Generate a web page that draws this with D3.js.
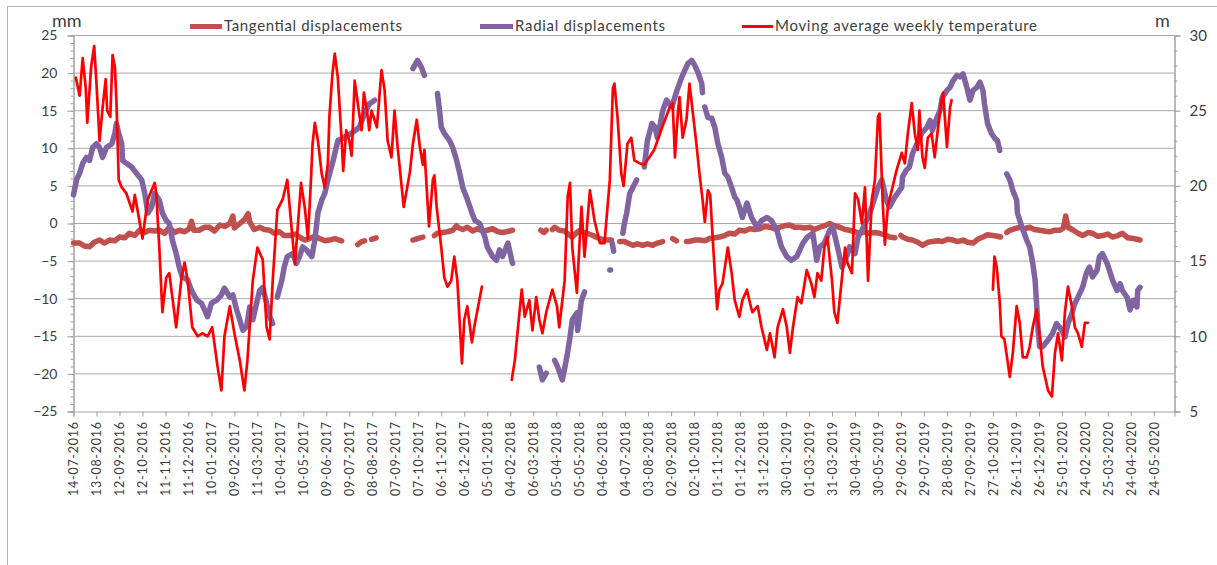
<!DOCTYPE html>
<html>
<head>
<meta charset="utf-8">
<script src="https://cdn.jsdelivr.net/npm/d3@7"></script>
<style>
  html, body { margin: 0; padding: 0; background: #fff; }
  svg { display: block; }
  text { font-family: Lato, "Liberation Sans", sans-serif; fill: #404040; }
</style>
</head>
<body>
<svg id="chart" width="1217" height="565"></svg>
<script>
// ---- data -------------------------------------------------------------
const startLabel = "14-07-2016";
const axisEndDays = 1437;

const xTickLabels = [
  "14-07-2016","13-08-2016","12-09-2016","12-10-2016","11-11-2016","11-12-2016",
  "10-01-2017","09-02-2017","11-03-2017","10-04-2017","10-05-2017","09-06-2017",
  "09-07-2017","08-08-2017","07-09-2017","07-10-2017","06-11-2017","06-12-2017",
  "05-01-2018","04-02-2018","06-03-2018","05-04-2018","05-05-2018","04-06-2018",
  "04-07-2018","03-08-2018","02-09-2018","02-10-2018","01-11-2018","01-12-2018",
  "31-12-2018","30-01-2019","01-03-2019","31-03-2019","30-04-2019","30-05-2019",
  "29-06-2019","29-07-2019","28-08-2019","27-09-2019","27-10-2019","26-11-2019",
  "26-12-2019","25-01-2020","24-02-2020","25-03-2020","24-04-2020","24-05-2020"
];
const leftTicks = [-25, -20, -15, -10, -5, 0, 5, 10, 15, 20, 25];
const rightTicks = [5, 10, 15, 20, 25, 30];
const leftUnit = "mm";
const rightUnit = "m";
const seriesNames = ["Tangential displacements", "Radial displacements", "Moving average weekly temperature"];

// [days since start, mm]; null marks a break in the record
const tangential = [
  [0,-2.6],[8,-2.6],[14,-3.0],[21,-3.1],[27,-2.5],[34,-2.2],[40,-2.6],[47,-2.2],[54,-2.3],[60,-1.8],
  [67,-1.9],[73,-1.3],[80,-1.6],[86,-0.9],[93,-1.2],[99,-0.9],[106,-1.0],[112,-0.9],[119,-1.3],[125,-0.5],
  [132,-1.2],[138,-0.9],[145,-1.1],[151,-0.7],[154,0.3],[157,-0.9],[164,-0.9],[171,-0.5],[178,-0.5],[184,-1.0],
  [191,-0.2],[197,-0.4],[204,0.0],[208,1.0],[210,-0.6],[217,0.0],[223,0.5],[228,1.3],[230,0.2],[236,-0.8],
  [243,-0.5],[249,-0.8],[256,-0.9],[262,-1.3],[269,-1.1],[275,-1.6],[282,-1.6],[289,-1.4],[295,-1.8],[302,-2.2],
  [308,-2.0],[315,-1.7],[321,-2.0],[328,-2.3],[334,-2.2],[341,-2.0],[347,-2.2],[350,-2.3],[355,null],
  [371,-2.8],[376,-2.4],[380,-2.3],[383,null],[389,-2.1],[395,-1.9],[398,null],
  [443,-2.2],[449,-2.0],[456,-1.8],[460,null],
  [471,-1.6],[475,-1.3],[482,-1.2],[488,-1.1],[495,-0.9],[500,-0.3],[501,-0.5],[508,-0.8],[514,-0.5],[521,-1.0],
  [527,-0.7],[534,-1.0],[540,-0.9],[547,-0.7],[554,-1.1],[560,-1.2],[565,-1.1],[573,-0.9],[580,null],
  [610,-0.9],[614,-1.2],[617,-0.9],[621,null],
  [625,-0.8],[628,-0.5],[634,-0.9],[641,-1.0],[644,-1.3],[651,-1.8],[657,-1.2],[661,-0.9],[667,-1.3],[670,-1.3],
  [678,-1.6],[684,-1.9],[687,-2.0],[693,-2.2],[702,-2.2],[706,null],
  [713,-2.4],[719,-2.4],[723,-2.6],[730,-2.9],[736,-2.7],[743,-2.9],[749,-2.7],[756,-2.9],[762,-2.6],[769,-2.4],[774,null],
  [782,-2.0],[787,-2.3],[792,null],
  [800,-2.4],[803,-2.4],[811,-2.2],[817,-2.2],[824,-2.3],[830,-2.0],[837,-1.9],[843,-1.8],[850,-1.6],[856,-1.3],
  [863,-1.4],[869,-0.9],[876,-1.0],[883,-0.7],[889,-0.8],[896,-0.7],[902,-0.4],[909,-0.5],[915,-0.7],[922,-0.5],
  [928,-0.3],[935,-0.2],[941,-0.5],[948,-0.5],[954,-0.6],[961,-0.5],[967,-0.8],[974,-0.5],[980,-0.3],[987,0.0],
  [993,-0.3],[1000,-0.5],[1007,-0.8],[1013,-0.9],[1020,-1.1],[1026,-1.3],[1033,-1.1],[1039,-1.3],[1046,-1.2],[1052,-1.3],
  [1059,-1.5],[1065,-1.8],[1072,-1.9],[1076,null],
  [1080,-1.6],[1082,-1.8],[1089,-2.1],[1095,-2.2],[1102,-2.5],[1108,-2.9],[1115,-2.5],[1121,-2.4],[1128,-2.3],[1134,-2.4],
  [1141,-2.1],[1148,-2.2],[1154,-2.4],[1161,-2.2],[1167,-2.5],[1174,-2.6],[1180,-2.1],[1187,-1.8],[1193,-1.5],[1200,-1.6],
  [1206,-1.7],[1210,-1.8],[1214,null],
  [1218,-1.2],[1222,-0.9],[1228,-0.7],[1235,-0.5],[1241,-0.7],[1248,-0.5],[1254,-0.8],[1261,-0.9],[1267,-1.0],[1274,-1.1],
  [1280,-0.9],[1287,-0.9],[1292,-0.6],[1295,1.0],[1298,-0.5],[1305,-0.9],[1311,-1.3],[1317,-1.6],[1324,-1.2],[1330,-1.3],
  [1337,-1.7],[1343,-1.6],[1350,-1.4],[1356,-1.8],[1363,-1.6],[1369,-1.3],[1376,-1.9],[1383,-2.0],[1388,-2.1],[1392,-2.2]
];

const radial = [
  [0,3.8],[4,5.8],[8,6.7],[12,8.0],[17,8.8],[21,8.4],[25,10.1],[30,10.6],[34,10.1],[38,8.8],
  [43,10.1],[50,10.6],[54,12.0],[56,13.3],[59,12.0],[63,10.6],[64,8.4],[69,8.0],[76,7.5],[82,6.7],
  [89,5.8],[93,4.0],[97,1.4],[102,2.2],[106,4.0],[112,3.1],[116,1.4],[121,0.4],[125,0.0],[129,-2.2],
  [134,-4.0],[138,-5.8],[142,-7.1],[149,-7.5],[154,-8.9],[161,-10.2],[167,-10.6],[171,-11.5],[175,-12.4],[180,-10.6],
  [187,-10.2],[193,-9.5],[197,-8.6],[204,-9.8],[208,-9.5],[213,-11.5],[217,-12.8],[221,-14.2],[226,-13.7],[230,-11.1],
  [234,-12.8],[239,-10.6],[243,-8.9],[247,-8.5],[252,-10.6],[256,-12.4],[260,-13.3],[263,null],
  [266,-9.8],[272,-7.5],[275,-5.8],[279,-4.4],[286,-4.0],[291,-5.3],[295,-4.4],[299,-3.1],[304,-3.5],[311,-4.4],
  [315,-2.2],[319,1.4],[324,3.1],[328,4.0],[332,5.8],[338,8.0],[345,11.0],[354,11.5],[363,12.0],[373,12.8],
  [380,14.6],[386,15.9],[393,16.4],[398,null],
  [443,20.6],[449,21.7],[454,20.8],[458,19.7],[462,null],
  [475,17.3],[478,14.8],[480,12.8],[484,12.0],[491,11.0],[495,10.1],[500,8.4],[504,6.7],[508,4.8],[513,3.5],
  [520,1.4],[524,0.4],[530,0.0],[537,-1.8],[540,-3.1],[547,-4.4],[552,-4.9],[556,-3.5],[560,-4.4],[567,-2.6],
  [572,-4.9],[573,-5.3],[580,null],
  [608,-19.1],[612,-20.8],[617,-19.9],[620,null],
  [628,-18.2],[632,-19.1],[638,-20.8],[644,-17.7],[648,-15.1],[651,-12.8],[657,-11.9],[658,-14.2],[663,-10.2],[667,-9.1],[672,null],
  [700,-6.2],[701,-6.2],[702,null],
  [703,-2.6],[705,-3.7],[708,null],
  [717,-1.3],[719,0.0],[722,1.4],[726,4.0],[730,4.8],[735,5.8],[738,null],
  [745,7.5],[749,11.0],[755,13.3],[759,12.8],[762,11.4],[765,12.8],[769,15.0],[774,16.4],[781,15.5],[787,17.5],
  [794,19.5],[802,21.3],[807,21.7],[811,21.0],[815,20.1],[820,18.6],[821,17.4],[823,null],
  [824,15.5],[828,14.1],[833,14.0],[837,12.8],[841,10.6],[846,8.8],[850,6.7],[854,6.2],[859,4.8],[863,3.5],
  [866,3.1],[869,2.2],[873,0.8],[879,2.7],[885,0.8],[892,-0.5],[898,0.4],[905,0.8],[911,0.4],[918,-0.9],
  [924,-3.1],[931,-4.4],[937,-4.9],[944,-4.4],[948,-3.5],[952,-2.6],[958,-1.8],[965,-1.3],[970,-4.9],[974,-3.1],
  [980,-2.6],[987,-0.9],[991,-0.5],[996,-2.6],[1003,-5.8],[1009,-4.4],[1013,-3.1],[1020,-4.0],[1024,-1.8],[1029,-0.9],
  [1033,0.0],[1037,0.8],[1042,2.2],[1046,3.5],[1050,4.8],[1055,5.8],[1061,3.1],[1065,2.2],[1072,3.5],[1081,4.8],
  [1082,6.2],[1087,7.1],[1091,7.5],[1095,9.3],[1101,10.6],[1107,12.0],[1114,12.8],[1118,13.7],[1121,12.4],[1127,14.1],
  [1131,15.0],[1134,16.8],[1140,17.7],[1144,18.1],[1148,19.0],[1153,19.7],[1157,19.5],[1161,19.9],[1166,18.1],[1170,16.4],
  [1174,17.7],[1179,18.1],[1183,18.8],[1187,17.7],[1189,15.9],[1193,13.3],[1198,12.0],[1202,11.4],[1206,11.0],[1209,9.7],[1212,null],
  [1218,6.6],[1222,5.8],[1226,4.4],[1231,3.1],[1232,1.4],[1238,-0.5],[1244,-2.2],[1248,-3.1],[1252,-5.3],[1255,-7.5],
  [1257,-10.6],[1259,-14.2],[1261,-16.4],[1265,-16.4],[1272,-15.5],[1278,-14.6],[1283,-13.3],[1290,-14.2],[1294,-15.1],[1298,-13.3],
  [1303,-12.0],[1307,-10.6],[1311,-9.8],[1317,-8.5],[1322,-6.6],[1326,-5.8],[1330,-7.1],[1336,-6.2],[1339,-4.4],[1343,-4.0],
  [1349,-5.3],[1352,-6.2],[1356,-7.5],[1362,-8.9],[1366,-8.0],[1369,-8.9],[1375,-9.8],[1379,-11.5],[1383,-10.2],[1388,-11.1],
  [1389,-8.9],[1392,-8.5]
];

// [days since start, weekly moving average temperature]
const temperature = [
  [3,27.2],[8,26.0],[12,28.5],[16,26.5],[18,24.2],[23,27.9],[27,29.3],[30,26.8],[34,23.0],[38,25.2],
  [42,27.1],[44,25.0],[48,24.6],[51,28.7],[54,27.9],[56,25.7],[59,20.4],[63,19.9],[69,19.5],[77,18.3],
  [80,19.4],[85,18.0],[90,16.5],[97,19.1],[106,20.2],[108,19.5],[112,15.9],[116,11.6],[121,13.9],[125,14.2],
  [129,12.6],[134,10.6],[141,13.9],[145,14.9],[149,13.7],[155,10.6],[162,10.0],[168,10.2],[175,10.0],[181,10.6],
  [188,8.0],[193,6.4],[197,10.0],[204,12.0],[210,10.2],[217,8.4],[223,6.4],[227,8.4],[234,13.7],[240,15.9],
  [247,15.1],[252,10.6],[256,9.8],[260,13.7],[266,18.4],[273,19.1],[279,20.4],[285,17.0],[289,14.8],[293,17.5],
  [297,20.2],[302,18.5],[306,16.5],[310,20.5],[312,22.8],[315,24.2],[319,23.0],[324,20.8],[328,19.9],[332,21.5],
  [334,24.6],[338,27.5],[341,28.8],[345,27.2],[350,23.0],[352,21.0],[356,23.7],[360,23.0],[363,22.0],[367,27.0],
  [371,25.5],[376,23.7],[379,26.2],[383,25.0],[386,23.7],[389,25.0],[396,23.9],[402,27.7],[406,26.4],[410,23.0],
  [415,21.9],[419,25.0],[423,22.6],[431,18.6],[439,20.9],[443,22.8],[448,24.4],[452,22.6],[456,21.4],[458,22.4],
  [464,17.3],[469,20.4],[471,20.7],[474,18.6],[480,15.9],[484,13.9],[488,13.3],[493,13.7],[497,15.3],[501,13.7],
  [507,8.2],[510,11.1],[514,12.0],[520,9.6],[523,10.6],[533,13.3],[540,null],
  [572,7.1],[576,8.4],[585,13.1],[589,11.3],[595,12.4],[599,10.4],[604,12.6],[608,11.1],[612,10.2],[617,11.6],
  [625,13.1],[631,12.0],[634,10.6],[641,13.7],[645,19.3],[648,20.2],[651,15.9],[657,12.9],[663,18.6],[667,15.3],
  [674,19.7],[680,17.7],[687,16.2],[693,16.2],[700,20.4],[704,26.5],[706,26.8],[710,24.6],[715,20.8],[718,20.0],
  [723,22.8],[728,23.2],[732,21.7],[739,21.5],[745,21.4],[758,22.4],[769,24.0],[778,25.2],[782,25.5],[785,21.9],
  [789,25.0],[791,25.9],[795,23.2],[800,24.4],[804,26.8],[808,25.0],[813,22.8],[817,20.8],[821,19.1],[824,17.6],
  [828,19.7],[831,19.4],[835,15.9],[840,11.8],[843,13.1],[847,13.5],[854,15.9],[859,14.2],[863,12.4],[869,11.3],
  [873,12.4],[879,13.1],[883,12.2],[886,11.6],[893,12.0],[898,10.6],[905,9.1],[909,10.2],[915,8.6],[919,10.6],
  [926,11.8],[931,10.6],[935,8.9],[939,10.6],[945,12.6],[950,12.2],[957,14.4],[963,13.5],[967,12.6],[971,14.2],
  [976,13.7],[980,15.9],[984,16.6],[990,13.7],[993,11.6],[997,10.9],[1003,13.9],[1007,15.9],[1010,14.9],[1016,14.2],
  [1020,19.5],[1024,19.1],[1029,17.5],[1033,19.9],[1037,13.7],[1042,19.1],[1046,20.4],[1050,24.6],[1052,24.8],[1056,19.1],
  [1059,16.1],[1063,18.7],[1068,19.7],[1074,21.0],[1081,22.2],[1085,21.5],[1089,23.5],[1094,25.5],[1098,23.5],[1102,22.4],
  [1104,25.0],[1108,21.9],[1111,21.2],[1115,23.2],[1120,23.5],[1124,21.9],[1128,23.7],[1133,25.7],[1135,26.2],[1140,22.6],
  [1144,25.2],[1146,25.7],[1170,null],
  [1200,13.1],[1202,15.3],[1205,14.6],[1209,12.2],[1211,10.0],[1215,9.8],[1219,8.4],[1222,7.3],[1226,8.9],[1231,12.0],
  [1235,10.9],[1239,8.6],[1244,8.6],[1248,9.3],[1252,10.6],[1257,11.8],[1261,10.0],[1265,8.0],[1272,6.4],[1277,6.0],
  [1281,8.9],[1285,10.2],[1290,8.4],[1294,11.6],[1298,13.3],[1303,12.0],[1307,10.6],[1311,10.2],[1316,9.3],[1320,10.9],
  [1324,10.9]
];

// ---- layout -----------------------------------------------------------
const plot = { left: 73.5, right: 1174.5, top: 35.5, bottom: 411.5 };
const colors = { tangential: "#C0504D", radial: "#8064A2", temperature: "#FF0000",
                 grid: "#A9A9A9", axis: "#A0A0A0", frame: "#B4B4B4" };

const parse = d3.utcParse("%d-%m-%Y");
const start = parse(startLabel);
const dayToDate = d => d3.utcDay.offset(start, d);

const x = d3.scaleUtc().domain([start, dayToDate(axisEndDays)]).range([plot.left, plot.right]);
const yL = d3.scaleLinear().domain([-25, 25]).range([plot.bottom, plot.top]);
const yR = d3.scaleLinear().domain([5, 30]).range([plot.bottom, plot.top]);

const svg = d3.select("#chart");

// outer frame
svg.append("rect")
  .attr("x", 7.5).attr("y", 6.5).attr("width", 1400).attr("height", 700)
  .attr("fill", "none").attr("stroke", colors.frame).attr("stroke-width", 1);

// horizontal gridlines
svg.append("g").selectAll("line")
  .data(leftTicks.filter(v => v !== -25))
  .join("line")
  .attr("x1", plot.left).attr("x2", plot.right)
  .attr("y1", d => yL(d)).attr("y2", d => yL(d))
  .attr("stroke", colors.grid).attr("stroke-width", 1);

function styleAxis(g) {
  g.select(".domain").attr("stroke", colors.axis);
  g.selectAll(".tick line").attr("stroke", colors.axis);
}

// left axis (minor + major)
svg.append("g").attr("transform", `translate(${plot.left},0)`)
  .call(d3.axisLeft(yL).tickValues(d3.range(-25, 26, 1)).tickSize(3).tickFormat(""))
  .call(styleAxis);
svg.append("g").attr("transform", `translate(${plot.left},0)`)
  .call(d3.axisLeft(yL).tickValues(leftTicks).tickSize(6).tickPadding(10).tickFormat(d3.format("d")))
  .call(styleAxis)
  .call(g => g.selectAll("text").attr("font-size", 14).style("font-family", "Lato, 'Liberation Sans', sans-serif").attr("fill", "#404040"));

// right axis (minor + major)
svg.append("g").attr("transform", `translate(${plot.right},0)`)
  .call(d3.axisRight(yR).tickValues(d3.range(5, 31, 1)).tickSize(3).tickFormat(""))
  .call(styleAxis);
svg.append("g").attr("transform", `translate(${plot.right},0)`)
  .call(d3.axisRight(yR).tickValues(rightTicks).tickSize(6).tickPadding(9).tickFormat(d3.format("d")))
  .call(styleAxis)
  .call(g => g.selectAll("text").attr("font-size", 15).style("font-family", "Lato, 'Liberation Sans', sans-serif").attr("fill", "#404040"));

// bottom date axis
const tickDates = xTickLabels.map(parse);
svg.append("g").attr("transform", `translate(0,${plot.bottom})`)
  .call(d3.axisBottom(x).tickValues(tickDates).tickSize(5).tickFormat(d3.utcFormat("%d-%m-%Y")))
  .call(styleAxis)
  .call(g => g.selectAll("text")
    .attr("font-size", 12.5)
    .style("font-family", "Lato, 'Liberation Sans', sans-serif")
    .attr("fill", "#404040")
    .attr("transform", "rotate(-90)")
    .attr("text-anchor", "end")
    .attr("x", -10.5).attr("y", 0).attr("dy", "0.35em")
    .attr("textLength", 74).attr("lengthAdjust", "spacing"));

// unit labels
svg.append("text").attr("x", 52).attr("y", 27).attr("font-size", 18).text(leftUnit);
svg.append("text").attr("x", 1155).attr("y", 27).attr("font-size", 18).text(rightUnit);

// series
const lineL = d3.line()
  .defined(d => d[1] !== null)
  .x(d => x(dayToDate(d[0])))
  .y(d => yL(d[1]));
const lineR = d3.line()
  .defined(d => d[1] !== null)
  .x(d => x(dayToDate(d[0])))
  .y(d => yR(d[1]));

svg.append("path").datum(tangential)
  .attr("d", lineL).attr("fill", "none")
  .attr("stroke", colors.tangential).attr("stroke-width", 5.5)
  .attr("stroke-linejoin", "round").attr("stroke-linecap", "round");

svg.append("path").datum(radial)
  .attr("d", lineL).attr("fill", "none")
  .attr("stroke", colors.radial).attr("stroke-width", 5.5)
  .attr("stroke-linejoin", "round").attr("stroke-linecap", "round");

svg.append("path").datum(temperature)
  .attr("d", lineR).attr("fill", "none")
  .attr("stroke", colors.temperature).attr("stroke-width", 2.7)
  .attr("stroke-linejoin", "round").attr("stroke-linecap", "round");

// legend
const legendItems = [
  { name: seriesNames[0], color: colors.tangential, width: 5, x0: 190, x1: 222, tx: 224, tl: 178 },
  { name: seriesNames[1], color: colors.radial, width: 5, x0: 480, x1: 513, tx: 515, tl: 150 },
  { name: seriesNames[2], color: colors.temperature, width: 3, x0: 742, x1: 773, tx: 775, tl: 262 }
];
const legend = svg.append("g");
legendItems.forEach(it => {
  legend.append("line")
    .attr("x1", it.x0).attr("x2", it.x1).attr("y1", 26.5).attr("y2", 26.5)
    .attr("stroke", it.color).attr("stroke-width", it.width);
  legend.append("text")
    .attr("x", it.tx).attr("y", 31).attr("font-size", 15)
    .attr("textLength", it.tl).attr("lengthAdjust", "spacing")
    .text(it.name);
});
</script>
</body>
</html>
